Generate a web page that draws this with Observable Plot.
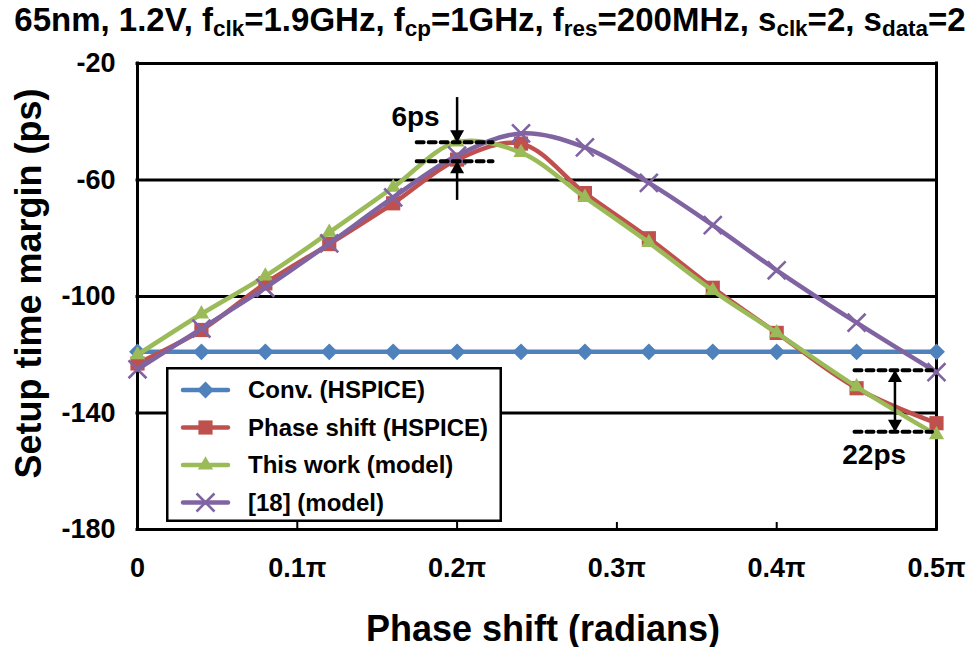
<!DOCTYPE html>
<html><head><meta charset="utf-8">
<script src="https://cdn.jsdelivr.net/npm/d3@7"></script>
<script src="https://cdn.jsdelivr.net/npm/@observablehq/plot@0.6"></script>
<style>
body{margin:0;background:#fff;}
#wrap{position:relative;width:969px;height:647px;font-family:"Liberation Sans",Arial,sans-serif;font-weight:bold;color:#000;}
#title{height:40px;line-height:40px;font-size:33px;text-align:center;white-space:nowrap;padding-left:11px;box-sizing:border-box;overflow:visible;}
#title sub{font-size:0.68em;vertical-align:-0.22em;line-height:0;}
#legend{position:absolute;left:166px;top:367px;}
svg{display:block;}
</style></head><body>
<div id="wrap">
<div id="title">65nm, 1.2V, f<sub>clk</sub>=1.9GHz, f<sub>cp</sub>=1GHz, f<sub>res</sub>=200MHz, s<sub>clk</sub>=2, s<sub>data</sub>=2</div>
<div id="chart"></div>
<div id="legend"></div>
</div>
<script>
// ---- data (phase shift in units of π, setup time margin in ps) ----
const phaseShift = [0, 0.04, 0.08, 0.12, 0.16, 0.2, 0.24, 0.28, 0.32, 0.36, 0.4, 0.45, 0.5];
const convHspice  = [-119, -119, -119, -119, -119, -119, -119, -119, -119, -119, -119, -119, -119];
const phaseHspice = [-123, -111.5, -95.5, -82, -68, -53, -47.5, -64.5, -80, -97, -112.5, -131.5, -143.5];
const thisWork    = [-120, -106, -93, -78, -62.5, -47, -50.6, -66, -81.5, -98, -112.5, -131, -147.5];
const ref18       = [-125, -111, -97, -81.8, -66, -51.6, -44, -48.8, -61, -75.5, -91, -109, -126];
const seriesNames = ["Conv. (HSPICE)", "Phase shift (HSPICE)", "This work (model)", "[18] (model)"];
const seriesColors = ["#4F81BD", "#C0504D", "#9BBB59", "#8064A2"];
const xTicks = [0, 0.1, 0.2, 0.3, 0.4, 0.5];
const yTicks = [-20, -60, -100, -140, -180];
// annotations
const gapLabels = ["6ps", "22ps"];
const gapX = [0.2, 0.474];
const gapUpper = [-47, -125.3];
const gapLower = [-53.6, -146.4];
const dashFrom = [0.175, 0.449];
const dashTo = [0.2225, 0.4975];
const labelX = [0.174, 0.461];
const labelY = [-38.5, -154.6];
const arrowOuterTop = -31.7;
const arrowOuterBottom = -67;

const allValues = [convHspice, phaseHspice, thisWork, ref18];
const symbols = ["diamond2", "square", "triangle", "times"];
const symR = [7.6, 8.0, 5.7, 8.2];

const rows = allValues.map((vals, s) => phaseShift.map((x, i) => ({x, y: vals[i], s})));

const font = "'Liberation Sans', Arial, sans-serif";

const dashRows = gapLabels.map((l, i) => [
  {y: gapUpper[i], x1: dashFrom[i], x2: dashTo[i]},
  {y: gapLower[i], x1: dashFrom[i], x2: dashTo[i]}
]).flat();
const shafts = [
  {x: gapX[0], y1: arrowOuterTop, y2: gapUpper[0]},
  {x: gapX[0], y1: arrowOuterBottom, y2: gapLower[0]},
  {x: gapX[1], y1: gapUpper[1], y2: gapLower[1]}
];
const headsDown = [{x: gapX[0], y: gapUpper[0]}, {x: gapX[1], y: gapLower[1]}];
const headsUp = [{x: gapX[0], y: gapLower[0]}, {x: gapX[1], y: gapUpper[1]}];
const labels = gapLabels.map((t, i) => ({t, x: labelX[i], y: labelY[i]}));

const seriesMarks = rows.map((data, s) => [
  Plot.line(data, {x: "x", y: "y", stroke: seriesColors[s], strokeWidth: 4.5, curve: "catmull-rom"}),
  s === 3
    ? Plot.dot(data, {x: "x", y: "y", symbol: symbols[s], r: symR[s], stroke: seriesColors[s], strokeWidth: 2.6})
    : Plot.dot(data, {x: "x", y: "y", symbol: symbols[s], r: symR[s], fill: seriesColors[s], stroke: "none"})
]).flat();

const chart = Plot.plot({
  width: 969, height: 607,
  marginLeft: 137, marginRight: 33, marginTop: 23, marginBottom: 118,
  x: {domain: [0, 0.5]},
  y: {domain: [-180, -20]},
  style: {fontFamily: font, fontWeight: "bold", color: "#000", background: "#fff", overflow: "visible"},
  marks: [
    Plot.ruleY(yTicks, {stroke: "#000", strokeWidth: 3, strokeLinecap: "square"}),
    Plot.ruleX([xTicks[0], xTicks[xTicks.length - 1]], {stroke: "#000", strokeWidth: 3, strokeLinecap: "square"}),
    Plot.ruleX(xTicks.slice(1, -1), {stroke: "#000", strokeWidth: 2, insetTop: 459}),
    Plot.axisY(yTicks, {tickSize: 0, tickPadding: 22, fontSize: 27, fontWeight: "bold", tickFormat: d => `${d}`, label: null}),
    Plot.axisX(xTicks, {tickSize: 0, tickPadding: 28, fontSize: 27, fontWeight: "bold", tickFormat: d => d === 0 ? "0" : `${d}π`, label: null}),
    ...seriesMarks,
    Plot.ruleY(dashRows, {y: "y", x1: "x1", x2: "x2", stroke: "#000", strokeWidth: 4, strokeDasharray: "7,5", strokeLinecap: "round"}),
    Plot.ruleX(shafts, {x: "x", y1: "y1", y2: "y2", stroke: "#000", strokeWidth: 2.5}),
    Plot.dot(headsDown, {x: "x", y: "y", symbol: "triangle", r: 5.2, fill: "#000", rotate: 180, dy: -7.8}),
    Plot.dot(headsUp, {x: "x", y: "y", symbol: "triangle", r: 5.2, fill: "#000", dy: 7.8}),
    Plot.text(labels, {x: "x", y: "y", text: "t", fontSize: 28, fontWeight: "bold", fill: "#000"}),
    Plot.text(["Phase shift (radians)"], {frameAnchor: "bottom", dy: 111, dx: 6, fontSize: 36, fontWeight: "bold", fill: "#000"}),
    Plot.text(["Setup time margin (ps)"], {frameAnchor: "left", textAnchor: "middle", dx: -108, dy: -13, rotate: -90, fontSize: 36, fontWeight: "bold", fill: "#000"})
  ]
});
document.getElementById("chart").appendChild(chart);

// ---- legend ----
const lg = d3.select("#legend").append("svg").attr("width", 336).attr("height", 155).style("overflow", "visible");
lg.append("rect").attr("x", 1.25).attr("y", 1.25).attr("width", 333.5).attr("height", 152.5)
  .attr("fill", "#fff").attr("stroke", "#000").attr("stroke-width", 2.5);
const symMap = {diamond2: d3.symbolDiamond2, square: d3.symbolSquare, triangle: d3.symbolTriangle, times: d3.symbolTimes};
const rowY = [23, 60.5, 98, 135.5];
seriesNames.forEach((name, s) => {
  const g = lg.append("g").attr("transform", `translate(0,${rowY[s]})`);
  g.append("line").attr("x1", 17).attr("x2", 62).attr("stroke", seriesColors[s]).attr("stroke-width", 4.5).attr("stroke-linecap", "round");
  const p = d3.symbol(symMap[symbols[s]], symR[s] * symR[s] * Math.PI)();
  const sym = g.append("path").attr("d", p).attr("transform", "translate(39.5,0)");
  if (s === 3) sym.attr("fill", "none").attr("stroke", seriesColors[s]).attr("stroke-width", 2.6);
  else sym.attr("fill", seriesColors[s]);
  g.append("text").attr("x", 82).attr("dy", "0.35em").attr("font-family", font).attr("font-weight", "bold")
    .attr("font-size", 24).text(name);
});
</script>
</body></html>
